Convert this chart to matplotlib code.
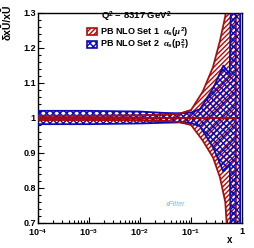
import matplotlib
matplotlib.use('Agg')
import matplotlib.pyplot as plt
import numpy as np
from matplotlib.patches import Rectangle
from matplotlib.ticker import FixedLocator, LogLocator, MultipleLocator, NullFormatter

plt.rcParams['font.family'] = ['Liberation Sans', 'DejaVu Sans']
plt.rcParams['font.weight'] = 'bold'
plt.rcParams['mathtext.fontset'] = 'custom'
plt.rcParams['mathtext.rm'] = 'Liberation Sans:bold'
plt.rcParams['mathtext.bf'] = 'Liberation Sans:bold'
plt.rcParams['mathtext.it'] = 'Liberation Serif:italic'
plt.rcParams['hatch.linewidth'] = 1.0

# Set 1 alpha_s(mu^2): relative uncertainty band (up / down deviation from 1)
x_set1 = [1e-4, 1e-3, 1e-2, 0.03, 0.06, 0.1, 0.17, 0.27, 0.37, 0.47, 0.5, 0.6, 0.76]
up_set1 = [0.006, 0.006, 0.007, 0.009, 0.012, 0.022, 0.075, 0.145, 0.22, 0.29, 0.33, 0.45, 0.6]
dn_set1 = [0.006, 0.006, 0.007, 0.009, 0.012, 0.02, 0.065, 0.113, 0.17, 0.24, 0.30, 0.40, 0.55]

# Set 2 alpha_s(pT^2)
x_set2 = [1e-4, 1e-3, 1e-2, 0.03, 0.06, 0.1, 0.15, 0.275, 0.43, 0.575, 0.66, 0.8, 0.92]
up_set2 = [0.02, 0.02, 0.018, 0.014, 0.013, 0.015, 0.025, 0.086, 0.149, 0.125, 0.7, 0.8, 0.8]
dn_set2 = [0.018, 0.018, 0.016, 0.014, 0.013, 0.015, 0.024, 0.086, 0.153, 0.134, 0.7, 0.8, 0.8]

red = '#b00a0a'
blue = '#0c0cb4'
red_hatch = '/' * 7
blue_hatch = 'x' * 5

fig = plt.figure(figsize=(2.55, 2.48), dpi=100)
ax = fig.add_axes([38/255, 1-223/248, 204/255, (223-12.7)/248])

x1 = np.array(x_set1)
ax.fill_between(x1, 1+np.array(up_set1), 1-np.array(dn_set1), facecolor='none',
                edgecolor=red, hatch=red_hatch, linewidth=1.3, zorder=2)

x2 = np.array(x_set2)
ax.fill_between(x2, 1+np.array(up_set2), 1-np.array(dn_set2), facecolor='none',
                edgecolor=blue, hatch=blue_hatch, linewidth=1.3, zorder=3)
ax.plot([x2[0], x2[-1]], [1, 1], color=blue, lw=1.3, zorder=4)
ax.plot([x1[0], x1[-1]], [1, 1], color=red, lw=1.3, zorder=4)
# inner red edges stay visible over the blue band at low x
ax.plot(x1[:6], 1+np.array(up_set1[:6]), color=red, lw=1.2, zorder=4)
ax.plot(x1[:6], 1-np.array(dn_set1[:6]), color=red, lw=1.2, zorder=4)

ax.set_xscale('log')
ax.set_xlim(1e-4, 1)
ax.set_ylim(0.7, 1.3)

ax.xaxis.set_major_locator(FixedLocator([1e-4, 1e-3, 1e-2, 1e-1, 1]))
ax.set_xticklabels([r'$10^{-4}$', r'$10^{-3}$', r'$10^{-2}$', r'$10^{-1}$', '1'])
ax.xaxis.set_minor_locator(LogLocator(base=10, subs=np.arange(2, 10), numticks=20))
ax.xaxis.set_minor_formatter(NullFormatter())
ax.yaxis.set_minor_locator(MultipleLocator(0.02))
ax.set_yticks([0.7, 0.8, 0.9, 1.0, 1.1, 1.2, 1.3])
ax.set_yticklabels(['0.7', '0.8', '0.9', '1', '1.1', '1.2', '1.3'])

ax.tick_params(which='both', direction='in', top=False, right=False, width=0.8, labelsize=6.5)
ax.tick_params(which='major', length=4.5)
ax.tick_params(which='minor', length=2.2)
ax.tick_params(axis='x', pad=3)
ax.tick_params(axis='y', pad=1.5)
for s in ax.spines.values():
    s.set_linewidth(1.0)

fig.text(8/255, 1-5/248, 'δxŪ/xŪ', rotation=90, ha='center', va='top', fontsize=7.5)
fig.text(230/255, 1-240/248, 'x', ha='center', va='center', fontsize=7)

fig.text(101/255, 1-17/248, r'Q$^2$ = 8317 GeV$^2$', ha='left', va='center', fontsize=6.8)
fig.text(100/255, 1-31/248, r'PB NLO Set 1  $\alpha_{\rm s}(\mu^2)$', ha='left', va='center', fontsize=6.5)
fig.text(100/255, 1-44/248, r'PB NLO Set 2  $\alpha_{\rm s}({\rm p}_{\rm T}^2)$', ha='left', va='center', fontsize=6.5)
fig.add_artist(Rectangle((87/255, 1-35/248), 10/255, 7/248, transform=fig.transFigure,
                         facecolor='none', edgecolor=red, hatch=red_hatch, linewidth=1.2))
fig.add_artist(Rectangle((87/255, 1-48/248), 10/255, 7/248, transform=fig.transFigure,
                         facecolor='none', edgecolor=blue, hatch=blue_hatch, linewidth=1.2))

fig.text(175/255, 1-205/248, 'xFitter', ha='center', va='center', fontsize=5,
         color='#6fb6e8', style='italic', weight='normal')

fig.savefig('out.png', dpi=100)
